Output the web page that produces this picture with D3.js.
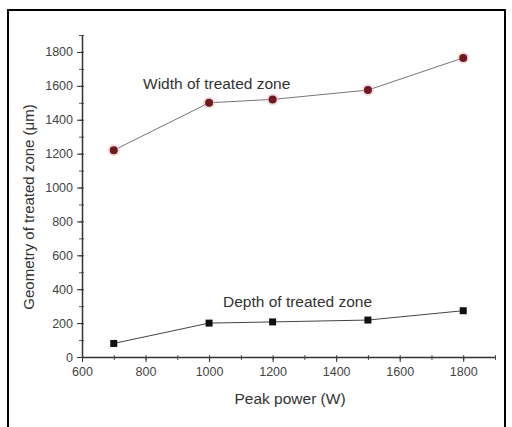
<!DOCTYPE html>
<html>
<head>
<meta charset="utf-8">
<script src="https://cdn.jsdelivr.net/npm/d3@7"></script>
<style>
  body { margin: 0; background: #fff; }
  svg { display: block; font-family: "Liberation Sans", Arial, sans-serif; }
</style>
</head>
<body>
<div id="chart"></div>
<script>
// Peak power (W) vs geometry of treated zone (um)
const peakPower = [700, 1000, 1200, 1500, 1800];
const widthZone = [1220, 1500, 1520, 1575, 1765];
const depthZone = [80, 200, 207, 218, 273];
const xTicks = [600, 800, 1000, 1200, 1400, 1600, 1800];
const yTicks = [0, 200, 400, 600, 800, 1000, 1200, 1400, 1600, 1800];

const W = 512, H = 427;
const svg = d3.select("#chart").append("svg")
    .attr("width", W)
    .attr("height", H);

// outer frame
svg.append("rect")
    .attr("x", 8).attr("y", 10)
    .attr("width", 497).attr("height", 430)
    .attr("fill", "none")
    .attr("stroke", "#000")
    .attr("stroke-width", 2);

const x = d3.scaleLinear().domain([600, 1900]).range([82, 495]);
const y = d3.scaleLinear().domain([0, 1900]).range([357, 35]);

// minor ticks
const xMinor = d3.range(600, 1901, 100);
const yMinor = d3.range(0, 1901, 100);

svg.append("g")
    .attr("transform", `translate(0,${y(0)})`)
    .call(d3.axisBottom(x).tickValues(xMinor).tickSize(3).tickFormat(""))
    .call(g => g.select(".domain").remove())
    .selectAll("line").attr("stroke", "#555").attr("y1", -2);

svg.append("g")
    .attr("transform", `translate(${x(600)},0)`)
    .call(d3.axisLeft(y).tickValues(yMinor).tickSize(3).tickFormat(""))
    .call(g => g.select(".domain").remove())
    .selectAll("line").attr("stroke", "#555").attr("x1", 2);

const xAxis = svg.append("g")
    .attr("transform", `translate(0,${y(0)})`)
    .call(d3.axisBottom(x).tickValues(xTicks).tickFormat(d3.format("d"))
        .tickSize(5).tickSizeOuter(0).tickPadding(5));

const yAxis = svg.append("g")
    .attr("transform", `translate(${x(600)},0)`)
    .call(d3.axisLeft(y).tickValues(yTicks).tickFormat(d3.format("d"))
        .tickSize(5).tickSizeOuter(0).tickPadding(4));

[xAxis, yAxis].forEach(g => {
    g.select(".domain").attr("stroke", "#333").attr("stroke-width", 1.5);
    g.selectAll("line").attr("stroke", "#333");
    g.selectAll("text")
        .style("font-size", "12.5px")
        .style("fill", "#444");
});

// axis titles
svg.append("text")
    .attr("x", 290).attr("y", 404)
    .attr("text-anchor", "middle")
    .style("font-size", "15.5px")
    .style("fill", "#333")
    .text("Peak power (W)");

svg.append("text")
    .attr("transform", "translate(34,207) rotate(-90)")
    .attr("text-anchor", "middle")
    .style("font-size", "15px")
    .style("fill", "#333")
    .text("Geometry of treated zone (μm)");

const line = d3.line()
    .x((d, i) => x(peakPower[i]))
    .y(d => y(d));

svg.append("path")
    .datum(widthZone)
    .attr("d", line)
    .attr("fill", "none")
    .attr("stroke", "#777")
    .attr("stroke-width", 1);

svg.append("path")
    .datum(depthZone)
    .attr("d", line)
    .attr("fill", "none")
    .attr("stroke", "#444")
    .attr("stroke-width", 1);

// width markers: dark red dots with a soft red halo
svg.selectAll("circle.halo")
    .data(widthZone)
    .join("circle")
    .attr("class", "halo")
    .attr("cx", (d, i) => x(peakPower[i]))
    .attr("cy", d => y(d))
    .attr("r", 6)
    .attr("fill", "#f4b5bd")
    .attr("opacity", 0.5);

svg.selectAll("circle.pt")
    .data(widthZone)
    .join("circle")
    .attr("class", "pt")
    .attr("cx", (d, i) => x(peakPower[i]))
    .attr("cy", d => y(d))
    .attr("r", 4)
    .attr("fill", "#6e1a22");

svg.selectAll("rect.pt")
    .data(depthZone)
    .join("rect")
    .attr("class", "pt")
    .attr("x", (d, i) => x(peakPower[i]) - 3.5)
    .attr("y", d => y(d) - 3.5)
    .attr("width", 7)
    .attr("height", 7)
    .attr("fill", "#111");

// series labels
svg.append("text")
    .attr("x", 143).attr("y", 89)
    .style("font-size", "15.5px")
    .style("fill", "#333")
    .text("Width of treated zone");

svg.append("text")
    .attr("x", 223).attr("y", 307)
    .style("font-size", "15.5px")
    .style("fill", "#333")
    .text("Depth of treated zone");
</script>
</body>
</html>
